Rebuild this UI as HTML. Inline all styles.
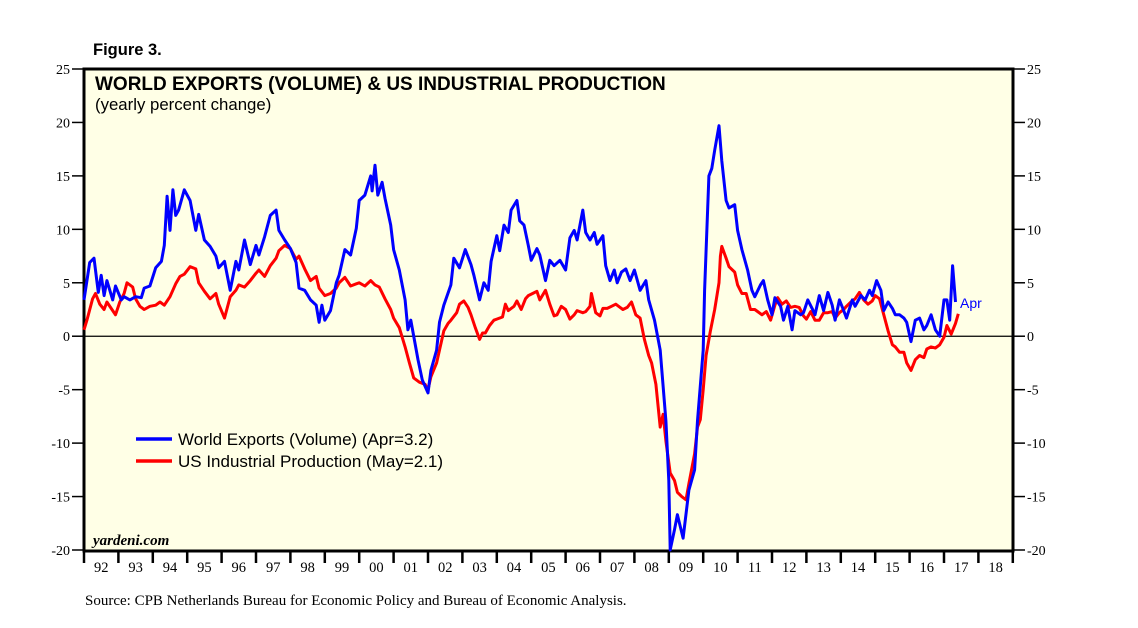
<!DOCTYPE html>
<html><head><meta charset="utf-8"><style>
body{margin:0;background:#fff;}
svg text{font-family:"Liberation Serif",serif;}
</style></head><body>
<svg id="chart" width="1138" height="623" viewBox="0 0 1138 623">
<text x="93" y="55" font-size="16.5" font-weight="bold" style="font-family:'Liberation Sans',sans-serif">Figure 3.</text>
<rect x="84" y="69" width="929" height="482" fill="#ffffe6" stroke="#000" stroke-width="3"/>
<g id="yaxes"></g>
<g id="xaxis"></g>
<line id="zero" stroke="#000" stroke-width="1.2"/>
<g id="series"></g>
<text x="95" y="90" font-size="19" font-weight="bold" style="font-family:'Liberation Sans',sans-serif">WORLD EXPORTS (VOLUME) &amp; US INDUSTRIAL PRODUCTION</text>
<text x="95" y="110" font-size="16.8" style="font-family:'Liberation Sans',sans-serif">(yearly percent change)</text>
<g>
<line x1="136" y1="439" x2="172" y2="439" stroke="#0000ff" stroke-width="3.5"/>
<text x="178" y="445" font-size="17" style="font-family:'Liberation Sans',sans-serif">World Exports (Volume) (Apr=3.2)</text>
<line x1="136" y1="461" x2="172" y2="461" stroke="#ff0000" stroke-width="3.5"/>
<text x="178" y="467" font-size="17" style="font-family:'Liberation Sans',sans-serif">US Industrial Production (May=2.1)</text>
</g>
<text x="960" y="308" font-size="14" fill="#0000ff" style="font-family:'Liberation Sans',sans-serif">Apr</text>
<text x="93" y="545" font-size="15" font-style="italic" font-weight="bold">yardeni.com</text>
<text x="85" y="605" font-size="15">Source: CPB Netherlands Bureau for Economic Policy and Bureau of Economic Analysis.</text>
</svg>
<script>
const yTicks=[25,20,15,10,5,0,-5,-10,-15,-20];
const yearLabels=["92","93","94","95","96","97","98","99","00","01","02","03","04","05","06","07","08","09","10","11","12","13","14","15","16","17","18"];
const exportsMonths=[0,2,3.5,5,6,7,8,10,11,13,14,16,18,20,21,23,25,27,28,29,30,31,32,33,35,37,39,40,42,44,46,47,49,51,53,54,56,58,60,61,63,65,67,68,70,72,74,75,77,79,81,82,83,84,86,88,89,91,93,95,96,98,100,100.5,101.5,102.5,104,105,107,108,110,112,113,114,116.5,118,120,121,123,124,125.5,128,129,131,133,135,136,138,139.5,141,142,144,145,146.5,148,149,151,152,153.5,155,156,158,159,161,162.5,164,166,168,169.5,171,172,174,175,176.5,178,179,181,182,183.5,185,186,187.5,189,190.5,192,194,196,197,199,201,203,204,204.5,206,207,209,211,213,214,216,216.5,218,219,220,221.5,222.5,224,225,227,228,229.5,231.5,233,234,236,237,238.5,240,241,243,244,245.5,247,248,250,251,252.5,254,255,256.5,258,259.5,261,262,263.5,265,266,268,269,271,272.5,274,275,276.5,278,279,280.5,282,283,284.5,286,287,288.5,290,291.5,293,294,295.5,297,298.5,300,301,302,303,304];
const exportsValues=[3.4,6.9,7.3,4.1,5.7,3.8,5.2,3.4,4.7,3.4,3.7,3.4,3.7,3.6,4.5,4.7,6.4,7.0,8.5,13.1,9.9,13.7,11.3,11.8,13.7,12.7,9.9,11.4,9.0,8.4,7.5,6.4,7.0,4.3,7.0,6.2,9.0,6.7,8.5,7.6,9.3,11.3,11.8,9.9,9.0,8.2,6.9,4.5,4.3,3.4,2.9,1.3,2.9,1.5,2.4,5.0,5.7,8.1,7.6,10.1,12.7,13.2,15.0,13.6,16.0,13.2,14.4,12.9,10.4,8.1,6.2,3.4,0.6,1.5,-2.2,-4.1,-5.3,-3.2,-1.3,1.3,2.9,4.8,7.3,6.4,8.1,6.7,5.7,3.4,5.0,4.3,7.0,9.4,8.0,10.4,9.7,11.8,12.7,10.8,10.4,8.5,7.1,8.2,7.6,5.2,7.1,6.6,7.1,6.2,9.2,9.9,9.0,11.8,9.7,9.0,9.7,8.6,9.4,6.6,5.2,6.2,5.0,6.0,6.3,5.2,6.2,4.3,5.2,3.4,1.5,-1.3,-7.9,-13.5,-20,-18.1,-16.7,-18.9,-14.4,-12.5,-7.9,-1.3,4.3,15.0,15.7,17.4,19.7,16.4,12.7,12.0,12.3,9.9,8.1,6.2,4.3,3.7,4.8,5.2,3.4,2.0,3.6,2.8,1.5,2.8,0.6,2.4,2.0,2.2,3.4,2.6,2.0,3.8,2.4,4.1,2.9,1.5,3.4,2.4,1.7,3.4,2.8,3.8,3.4,4.3,3.8,5.2,4.3,2.4,3.2,2.6,2.0,2.0,1.7,1.3,-0.5,1.5,1.7,0.6,1.0,2.0,0.6,0,3.4,3.4,1.5,6.6,3.2];
const ipMonths=[0,1,3,4,5.5,7,8,10,11,12.5,14,15,17,18,19.5,21,23,25,26.5,28,30,32,33.5,35,37,39,40,42,44,46,47,49,51,53,54,56,58,60,61,63,65,67,68,70,72,74,75,77,79,81,82,84,86,88,89,91,93,95,96,98,100,101.5,103,105,107,108,110,112,113.5,115,117,119,120,121,123,124,125.5,127,128,130,131,132.5,134,135,136.5,138,139,140,141.5,143,144,146,147,148,150,151,152.5,154,155,156.5,158,159,161,162.5,164,165,166.5,168,169.5,171,172,174,175,176.5,177,178.5,180,181,182.5,184,185.5,187,188,189.5,191,192.5,194,195.5,197,198,199.5,201,202,203,204.5,206,207,208.5,210,211,213,214,215,216,217,218.5,220,221.5,222,222.5,224,225,227,228,229.5,231,232.5,234,235,236.5,238,239.5,241,242,243.5,245,246.5,248,249.5,251,252,253.5,255,256.5,258,259.5,261,262,263.5,265,266,267.5,269,270.5,272,273.5,275,276,277.5,279,280.5,282,283,284.5,286,287,288.5,290,291.5,293,294,295.5,297,298.5,300,301,302.5,304,305];
const ipValues=[0.6,1.5,3.5,4.0,3.0,2.5,3.2,2.4,2.0,3.2,4.0,5.0,4.6,3.5,2.8,2.5,2.8,2.9,3.2,2.9,3.7,4.9,5.6,5.8,6.5,6.3,5.0,4.2,3.5,4.0,3.0,1.7,3.7,4.3,4.8,4.6,5.2,5.9,6.2,5.6,6.6,7.3,8.0,8.5,8.2,7.2,7.5,6.3,5.2,5.6,4.5,3.8,4.0,4.5,5.0,5.5,4.7,4.9,5.0,4.7,5.2,4.8,4.6,3.5,2.5,1.7,0.8,-1.0,-2.5,-3.9,-4.3,-4.5,-5.0,-3.8,-2.5,-1.3,0.5,1.2,1.5,2.2,3.0,3.3,2.7,2.0,0.8,-0.3,0.3,0.3,1.0,1.5,1.6,1.8,3.0,2.4,2.8,3.3,2.5,3.5,3.8,4.0,4.2,3.4,4.3,3.0,1.9,2.0,2.8,2.5,1.6,2.0,2.4,2.2,2.3,2.8,4.0,2.2,1.9,2.6,2.6,2.8,3.0,2.7,2.5,2.7,3.2,2.0,1.7,-0.3,-1.8,-2.5,-4.5,-8.5,-7.3,-9.8,-12.8,-13.5,-14.6,-15.0,-15.3,-13.8,-11.0,-8.5,-7.8,-5.0,-1.8,0.5,2.5,5.0,7.5,8.4,7.3,6.5,6.0,4.8,4.0,4.0,2.5,2.5,2.3,2.0,2.3,1.5,2.9,3.6,3.0,3.3,2.7,2.8,2.7,1.9,1.6,2.3,1.5,1.5,2.2,2.2,2.3,1.7,2.2,2.5,2.8,3.2,3.5,4.1,3.4,3.0,3.3,3.8,3.5,2.0,0.5,-0.8,-1.0,-1.5,-1.5,-2.5,-3.2,-2.2,-1.8,-2.0,-1.2,-1.0,-1.1,-0.8,-0.1,1.0,0.2,1.2,2.1];

const NS="http://www.w3.org/2000/svg";
const X0=84,YW=34.4,YT=69,YB=550;
function xm(m){return X0+(m/12)*YW;}
function yv(v){return YT+(25-v)*(YB-YT)/45;}
function mk(tag,attrs,parent){const e=document.createElementNS(NS,tag);for(const k in attrs)e.setAttribute(k,attrs[k]);parent.appendChild(e);return e;}

const ya=document.getElementById('yaxes');
yTicks.forEach(v=>{
  const y=yv(v);
  const l1=mk('line',{x1:72,x2:84,y1:y,y2:y,stroke:'#000','stroke-width':1.5},ya);
  
  
  const l2=mk('line',{x1:1013,x2:1025,y1:y,y2:y,stroke:'#000','stroke-width':1.5},ya);
  
  
  const t1=mk('text',{x:70,y:y+5,'font-size':14,'text-anchor':'end'},ya);t1.textContent=v;
  
  
  const t2=mk('text',{x:1027,y:y+5,'font-size':14},ya);t2.textContent=v;
  
  
});
const z=document.getElementById('zero');
z.setAttribute('x1',85);z.setAttribute('x2',1012);z.setAttribute('y1',yv(0));z.setAttribute('y2',yv(0));

const xa=document.getElementById('xaxis');
for(let i=0;i<=yearLabels.length;i++){
  const x=X0+i*YW;
  const tk=mk('line',{x1:x,x2:x,y1:550,y2:563,stroke:'#000','stroke-width':2.5},xa);
  
  
}
yearLabels.forEach((lab,i)=>{
  const t=mk('text',{x:X0+(i+0.5)*YW,y:572,'font-size':14.5,'text-anchor':'middle'},xa);t.textContent=lab;
  
  
});

const sg=document.getElementById('series');
function line(ms,vs,color,name){
  const d=ms.map((m,i)=>(i?'L':'M')+xm(m).toFixed(1)+','+yv(vs[i]).toFixed(1)).join('');
  const p=mk('path',{d:d,fill:'none',stroke:color,'stroke-width':3,'stroke-linejoin':'round'},sg);
  
  
}
line(ipMonths,ipValues,'#ff0000','us-industrial-production-line');
line(exportsMonths,exportsValues,'#0000ff','world-exports-line');
</script>
</body></html>
